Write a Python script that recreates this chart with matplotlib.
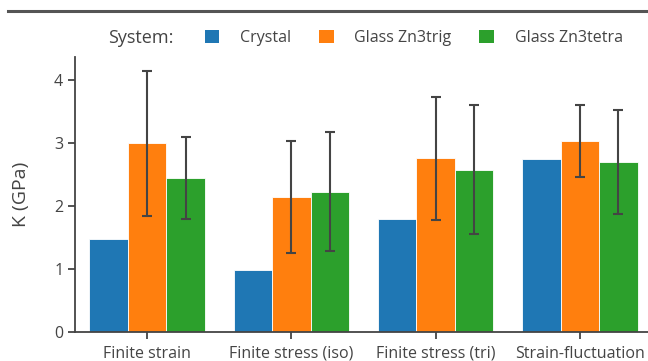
import numpy as np
import matplotlib
matplotlib.use("Agg")
import matplotlib.pyplot as plt
from matplotlib.patches import Patch

plt.rcParams['font.family'] = ['Open Sans', 'DejaVu Sans']

methods = ["Finite strain", "Finite stress (iso)", "Finite stress (tri)", "Strain-fluctuation"]
systems = ["Crystal", "Glass Zn3trig", "Glass Zn3tetra"]
colors = ["#1f77b4", "#ff7f0e", "#2ca02c"]

k_crystal = [1.47, 0.99, 1.80, 2.75]
k_trig = [3.00, 2.15, 2.76, 3.04]
k_tetra = [2.45, 2.23, 2.58, 2.70]
err_trig = [1.15, 0.89, 0.98, 0.57]
err_tetra = [0.65, 0.95, 1.03, 0.83]

values = [k_crystal, k_trig, k_tetra]
errors = [None, err_trig, err_tetra]

fig = plt.figure(figsize=(6.48, 3.61), dpi=100)
ax = fig.add_axes([75 / 648, 1 - 332 / 361, 577 / 648, 275 / 361])

x = np.arange(len(methods))
w = 0.8 / 3
for i, (vals, errs, c) in enumerate(zip(values, errors, colors)):
    pos = x + (i - 1) * w
    ax.bar(pos, vals, width=w, color=c, edgecolor="white", linewidth=0.6, zorder=2)
    if errs is not None:
        ax.errorbar(pos, vals, yerr=errs, fmt="none", ecolor="#444444",
                    elinewidth=1.5, capsize=3.8, capthick=1.5, zorder=3)

ax.set_xlim(-0.5, 3.5)
ax.set_ylim(0, 4.37)
ax.set_yticks([0, 1, 2, 3, 4])
ax.set_xticks(x)
ax.set_xticklabels(methods)
ax.set_ylabel("K (GPa)", fontsize=14, color="#444444", labelpad=17)

for s in ["top", "right"]:
    ax.spines[s].set_visible(False)
for s in ["left", "bottom"]:
    ax.spines[s].set_color("#444444")
    ax.spines[s].set_linewidth(1.3)
ax.tick_params(axis="both", colors="#444444", labelcolor="#444444", labelsize=11.5,
               length=5, width=1.3)
ax.tick_params(axis="x", pad=5)

# dark rule across the top of the figure
fig.add_artist(plt.Line2D([8 / 648, 1], [1 - 11 / 361] * 2, color="#555555", lw=2.2))

fig.text(108 / 648, 1 - 38 / 361, "System:", fontsize=13, color="#444444", va="center")
handles = [Patch(facecolor=c, edgecolor="none") for c in colors]
leg = fig.legend(handles, systems, loc="center left", bbox_to_anchor=(205 / 648, 1 - 38 / 361),
                 ncol=3, frameon=False, fontsize=11.5, handlelength=0.9, handleheight=0.9,
                 columnspacing=1.75, handletextpad=1.3, labelcolor="#444444",
                 borderpad=0, borderaxespad=0)

fig.savefig("out.png", dpi=100)
